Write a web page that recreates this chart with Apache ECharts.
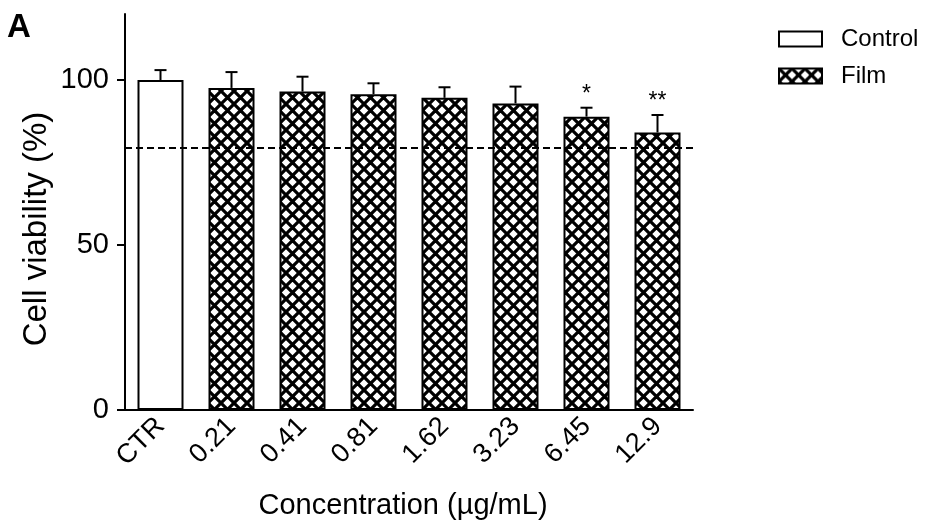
<!DOCTYPE html>
<html>
<head>
<meta charset="utf-8">
<script src="https://cdn.jsdelivr.net/npm/echarts@6/dist/echarts.min.js"></script>
<style>
  html, body { margin: 0; padding: 0; background: #fff; }
  #main { width: 925px; height: 528px; }
</style>
</head>
<body>
<div id="main"></div>
<script>
// data
var categories = ['CTR', '0.21', '0.41', '0.81', '1.62', '3.23', '6.45', '12.9']
var controlVals = [100, '-', '-', '-', '-', '-', '-', '-']
var filmVals = ['-', 97.6, 96.5, 95.7, 94.6, 92.9, 88.9, 84.1]
var means = [100, 97.6, 96.5, 95.7, 94.6, 92.9, 88.9, 84.1]
var errs = [3.0, 4.8, 4.5, 3.3, 3.2, 5.1, 2.7, 5.3]
var sig = ['', '', '', '', '', '', '*', '**']
var yTicks = [0, 50, 100]
var cutoff = 79.4

var FONT = 'Liberation Sans'

// cross hatch tile for the Film bars
function hatch() {
  var s = 13
  var c = document.createElement('canvas')
  c.width = s
  c.height = s
  var ctx = c.getContext('2d')
  ctx.fillStyle = '#fff'
  ctx.fillRect(0, 0, s, s)
  ctx.strokeStyle = '#000'
  ctx.lineWidth = 3.2
  ;[-s, 0, s].forEach(function (k) {
    ctx.beginPath()
    ctx.moveTo(k, 0)
    ctx.lineTo(k + s, s)
    ctx.moveTo(k + s, 0)
    ctx.lineTo(k, s)
    ctx.stroke()
  })
  return c
}

var errData = categories.map(function (c, i) {
  return [i, means[i], means[i] + errs[i]]
})

var myChart = echarts.init(document.getElementById('main'))
myChart.setOption({
  animation: false,
  textStyle: { fontFamily: FONT, color: '#000' },
  title: {
    text: 'A',
    left: 7,
    top: 11,
    padding: 0,
    textStyle: { fontSize: 33, fontWeight: 'bold', color: '#000', fontFamily: FONT },
  },
  legend: {
    orient: 'vertical',
    left: 778,
    top: 27,
    padding: 0,
    icon: 'rect',
    itemWidth: 43,
    itemHeight: 15,
    itemGap: 13,
    data: ['Control', 'Film'],
    textStyle: { fontSize: 24, color: '#000', fontFamily: FONT, padding: [0, 0, 0, 14] },
  },
  grid: {
    left: 125,
    right: 232,
    top: 14,
    bottom: 118,
    containLabel: false,
    outerBoundsMode: 'none',
  },
  xAxis: {
    type: 'category',
    data: categories,
    name: 'Concentration (µg/mL)',
    nameLocation: 'middle',
    nameGap: 81,
    nameTextStyle: { fontSize: 29, color: '#000', fontFamily: FONT, padding: [0, 12, 0, 0] },
    axisLine: { lineStyle: { color: '#000', width: 2 } },
    axisTick: { alignWithLabel: true, length: 10, lineStyle: { color: '#000', width: 2 } },
    axisLabel: { rotate: 45, fontSize: 27, margin: 12, color: '#000', fontFamily: FONT },
  },
  yAxis: {
    type: 'value',
    min: 0,
    max: 120,
    interval: 50,
    name: 'Cell viability (%)',
    nameLocation: 'middle',
    nameGap: 72,
    nameMoveOverlap: false,
    nameTextStyle: { fontSize: 33, color: '#000', fontFamily: FONT, padding: [0, 34, 0, 0] },
    splitLine: { show: false },
    axisLine: { show: true, lineStyle: { color: '#000', width: 2 } },
    axisTick: { show: true, length: 8, customValues: yTicks, lineStyle: { color: '#000', width: 2 } },
    axisLabel: { fontSize: 29, margin: 16, customValues: yTicks, color: '#000', fontFamily: FONT },
  },
  series: [
    {
      name: 'Control',
      type: 'bar',
      data: controlVals,
      barWidth: 46,
      barGap: '-100%',
      itemStyle: { color: '#fff', borderColor: '#000', borderWidth: 2 },
    },
    {
      name: 'Film',
      type: 'bar',
      data: filmVals,
      barWidth: 46,
      barGap: '-100%',
      itemStyle: {
        color: { image: hatch(), repeat: 'repeat' },
        borderColor: '#000',
        borderWidth: 2,
      },
      markLine: {
        silent: true,
        symbol: 'none',
        label: { show: false },
        lineStyle: { color: '#000', width: 2, type: [7, 4] },
        data: [{ yAxis: cutoff }],
      },
    },
    {
      name: 'err',
      type: 'custom',
      z: 5,
      data: errData,
      encode: { x: 0, y: [1, 2] },
      renderItem: function (params, api) {
        var base = api.coord([api.value(0), api.value(1)])
        var top = api.coord([api.value(0), api.value(2)])
        var children = [
          {
            type: 'line',
            shape: { x1: base[0], y1: base[1], x2: top[0], y2: top[1] },
            style: { stroke: '#000', lineWidth: 2 },
          },
          {
            type: 'line',
            shape: { x1: top[0] - 6, y1: top[1], x2: top[0] + 6, y2: top[1] },
            style: { stroke: '#000', lineWidth: 2 },
          },
        ]
        var s = sig[params.dataIndex]
        if (s) {
          children.push({
            type: 'text',
            x: top[0],
            y: top[1] - 2,
            style: {
              text: s,
              fontSize: 23,
              fontFamily: FONT,
              fill: '#000',
              align: 'center',
              verticalAlign: 'bottom',
            },
          })
        }
        return { type: 'group', children: children }
      },
    },
  ],
})
</script>
</body>
</html>
